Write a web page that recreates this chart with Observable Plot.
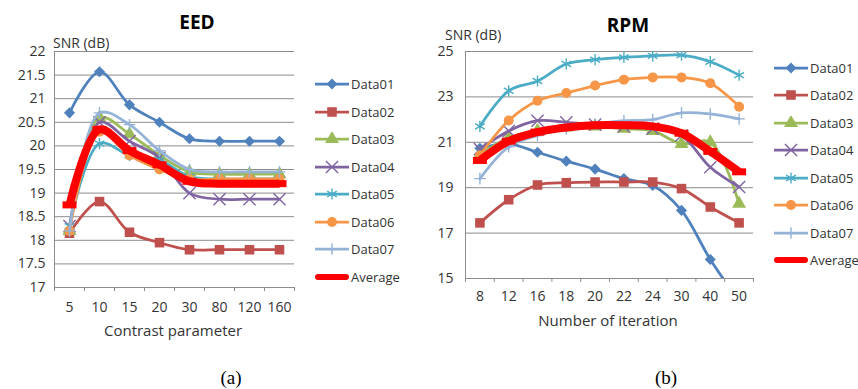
<!DOCTYPE html>
<html>
<head>
<meta charset="utf-8">
<script src="https://cdn.jsdelivr.net/npm/d3@7"></script>
<script src="https://cdn.jsdelivr.net/npm/@observablehq/plot@0.6"></script>
<style>
  html, body { margin: 0; padding: 0; background: #fff; }
  #root { position: relative; width: 858px; height: 389px; background: #fff; font-family: "Open Sans", sans-serif; color: #333; overflow: hidden; }
  .abs { position: absolute; white-space: nowrap; line-height: 1; }
  .title { font-weight: bold; font-size: 19px; color: #000; transform: translate(-50%, -50%); }
  .xlabel { font-size: 15px; transform: translate(-50%, -50%); }
  .ylabel { font-size: 14px; transform: translate(0, -50%); }
  .caption { font-family: "Liberation Serif", "DejaVu Serif", serif; font-size: 19px; color: #000; transform: translate(-50%, -50%); }
  .legend-row { position: absolute; display: flex; align-items: center; font-size: 13px; transform: translate(0, -50%); }
  .legend-row svg { display: block; margin-right: 2px; }
</style>
</head>
<body>
<div id="root"></div>
<script>
// ---- EED: SNR versus contrast parameter ----
const eedParams = ["5", "10", "15", "20", "30", "80", "120", "160"];
const eedData01 = [20.7, 21.57, 20.87, 20.5, 20.15, 20.1, 20.1, 20.1];
const eedData02 = [18.15, 18.82, 18.17, 17.95, 17.8, 17.8, 17.8, 17.8];
const eedData03 = [18.2, 20.6, 20.25, 19.8, 19.45, 19.4, 19.4, 19.4];
const eedData04 = [18.3, 20.5, 20.1, 19.75, 19.0, 18.87, 18.87, 18.87];
const eedData05 = [18.3, 20.05, 19.8, 19.7, 19.35, 19.3, 19.3, 19.3];
const eedData06 = [18.2, 20.3, 19.8, 19.5, 19.3, 19.3, 19.3, 19.3];
const eedData07 = [18.2, 20.7, 20.45, 19.9, 19.5, 19.45, 19.45, 19.45];
const eedAverage = [18.75, 20.35, 19.9, 19.6, 19.25, 19.2, 19.2, 19.2];
const eedTicks = [17, 17.5, 18, 18.5, 19, 19.5, 20, 20.5, 21, 21.5, 22];

// ---- RPM: SNR versus number of iterations ----
const rpmIters = ["8", "12", "16", "18", "20", "22", "24", "30", "40", "50"];
const rpmData01 = [20.74, 20.93, 20.56, 20.17, 19.82, 19.4, 19.1, 18.0, 15.84, 14.0];
const rpmData02 = [17.45, 18.47, 19.12, 19.22, 19.25, 19.25, 19.25, 18.96, 18.15, 17.45];
const rpmData03 = [20.45, 21.2, 21.5, 21.65, 21.7, 21.6, 21.5, 20.93, 21.0, 18.3];
const rpmData04 = [20.7, 21.5, 21.95, 21.88, 21.78, 21.7, 21.6, 21.3, 19.9, 19.03];
const rpmData05 = [21.7, 23.27, 23.7, 24.45, 24.64, 24.74, 24.81, 24.84, 24.55, 23.96];
const rpmData06 = [20.42, 21.96, 22.83, 23.17, 23.5, 23.76, 23.86, 23.86, 23.6, 22.57];
const rpmData07 = [19.4, 20.8, 21.3, 21.6, 21.8, 21.95, 22.0, 22.3, 22.25, 22.03];
const rpmAverage = [20.2, 21.05, 21.45, 21.65, 21.75, 21.75, 21.7, 21.4, 20.6, 19.7];
const rpmTicks = [15, 17, 19, 21, 23, 25];

const seriesNames = ["Data01", "Data02", "Data03", "Data04", "Data05", "Data06", "Data07", "Average"];

// Short horizontal bar used as the marker of the average curve
const dashSymbol = {
  draw(ctx) {
    ctx.moveTo(-7, -3.5); ctx.lineTo(7, -3.5); ctx.lineTo(7, 3.5); ctx.lineTo(-7, 3.5); ctx.closePath();
  }
};

const styles = {
  Data01:  {color: "#4F81BD", symbol: "diamond2", filled: true,  r: 5.0, width: 2.75},
  Data02:  {color: "#C0504D", symbol: "square",   filled: true,  r: 5.4, width: 2.75},
  Data03:  {color: "#9BBB59", symbol: "triangle", filled: true,  r: 5.2, width: 2.75},
  Data04:  {color: "#8064A2", symbol: "times",    filled: false, r: 5.6, width: 2.75},
  Data05:  {color: "#4BACC6", symbol: "asterisk", filled: false, r: 5.3, width: 2.75},
  Data06:  {color: "#F79646", symbol: "circle",   filled: true,  r: 5.0, width: 2.75},
  Data07:  {color: "#95B3D7", symbol: "plus",     filled: false, r: 3.8, width: 2.75},
  Average: {color: "#FF0000", symbol: dashSymbol, filled: true,  r: 4,   width: 8}
};

const d3Symbols = {
  diamond2: d3.symbolDiamond2, square: d3.symbolSquare, triangle: d3.symbolTriangle,
  times: d3.symbolTimes, asterisk: d3.symbolAsterisk, circle: d3.symbolCircle, plus: d3.symbolPlus
};

const root = document.getElementById("root");

function addText(cls, text, x, y) {
  const el = document.createElement("div");
  el.className = "abs " + cls;
  el.textContent = text;
  el.style.left = x + "px";
  el.style.top = y + "px";
  root.appendChild(el);
  return el;
}

function seriesMarks(name, values) {
  const s = styles[name];
  const data = values.map((v, i) => ({i, v}));
  return [
    Plot.line(data, {x: "i", y: "v", stroke: s.color, strokeWidth: s.width, curve: "catmull-rom", clip: true,
      strokeLinejoin: "round", strokeLinecap: name === "Average" ? "butt" : "round"}),
    Plot.dot(data, {x: "i", y: "v", symbol: () => s.symbol, r: s.r, clip: name !== "Average",
      fill: s.filled ? s.color : "none", stroke: s.filled ? "none" : s.color, strokeWidth: 1.4})
  ];
}

function panel({cats, series, yDomain, yTicks, left, width, height, margin, yPad, xPad}) {
  const n = cats.length;
  const bounds = d3.range(n + 1).map(k => k - 0.5);
  const chart = Plot.plot({
    width, height,
    marginLeft: margin[3], marginRight: margin[1], marginTop: margin[0], marginBottom: margin[2],
    style: {fontFamily: "Open Sans, sans-serif", fontSize: "14px", color: "#333", background: "transparent", overflow: "visible"},
    x: {domain: [-0.5, n - 0.5], axis: null},
    y: {domain: yDomain, axis: null},
    marks: [
      Plot.gridY(yTicks, {stroke: "#8c8c8c", strokeOpacity: 1, strokeWidth: 1}),
      Plot.ruleX([-0.5], {stroke: "#8c8c8c", strokeWidth: 1}),
      Plot.ruleY([yDomain[0]], {stroke: "#8c8c8c", strokeWidth: 1}),
      Plot.axisY(yTicks, {tickSize: 0, tickPadding: yPad, tickFormat: d => String(d), label: null, fill: "#333"}),
      Plot.axisX(bounds, {tickSize: 4, tickFormat: () => "", label: null, stroke: "#8c8c8c"}),
      Plot.axisX(d3.range(n), {tickSize: 0, tickPadding: xPad, tickFormat: i => cats[i], label: null, fill: "#333"}),
      ...seriesNames.flatMap((name, k) => seriesMarks(name, series[k]))
    ]
  });
  chart.style.position = "absolute";
  chart.style.left = left + "px";
  chart.style.top = "0px";
  root.appendChild(chart);
}

function legend(x, y0, step) {
  seriesNames.forEach((name, k) => {
    const s = styles[name];
    const row = document.createElement("div");
    row.className = "legend-row";
    row.style.left = x + "px";
    row.style.top = (y0 + k * step) + "px";
    const svg = d3.create("svg").attr("width", 34).attr("height", 14);
    if (name === "Average") {
      svg.append("line").attr("x1", 3).attr("x2", 31).attr("y1", 7).attr("y2", 7)
        .attr("stroke", s.color).attr("stroke-width", 6).attr("stroke-linecap", "round");
    } else {
      svg.append("line").attr("x1", 0).attr("x2", 34).attr("y1", 7).attr("y2", 7)
        .attr("stroke", s.color).attr("stroke-width", 2.75);
      svg.append("path").attr("transform", "translate(17,7)")
        .attr("d", d3.symbol(d3Symbols[s.symbol], Math.PI * s.r * s.r)())
        .attr("fill", s.filled ? s.color : "none")
        .attr("stroke", s.filled ? "none" : s.color).attr("stroke-width", 1.4);
    }
    row.appendChild(svg.node());
    const label = document.createElement("span");
    label.textContent = name;
    row.appendChild(label);
    root.appendChild(row);
  });
}

// Panel (a): EED
panel({
  cats: eedParams,
  series: [eedData01, eedData02, eedData03, eedData04, eedData05, eedData06, eedData07, eedAverage],
  yDomain: [17, 22], yTicks: eedTicks,
  left: 0, width: 300, height: 340, margin: [51, 6, 53, 54], yPad: 9, xPad: 15
});
addText("title", "EED", 197, 22);
addText("ylabel", "SNR (dB)", 53, 43);
addText("xlabel", "Contrast parameter", 173, 330);
legend(315, 84, 27.5);

// Panel (b): RPM
panel({
  cats: rpmIters,
  series: [rpmData01, rpmData02, rpmData03, rpmData04, rpmData05, rpmData06, rpmData07, rpmAverage],
  yDomain: [15, 25], yTicks: rpmTicks,
  left: 420, width: 340, height: 330, margin: [51, 7, 52, 45], yPad: 12, xPad: 13
});
addText("title", "RPM", 628, 25);
addText("ylabel", "SNR (dB)", 445, 35);
addText("xlabel", "Number of iteration", 608, 320);
legend(774, 67.7, 27.5);

addText("caption", "(a)", 231, 377);
addText("caption", "(b)", 666, 377);
</script>
</body>
</html>
